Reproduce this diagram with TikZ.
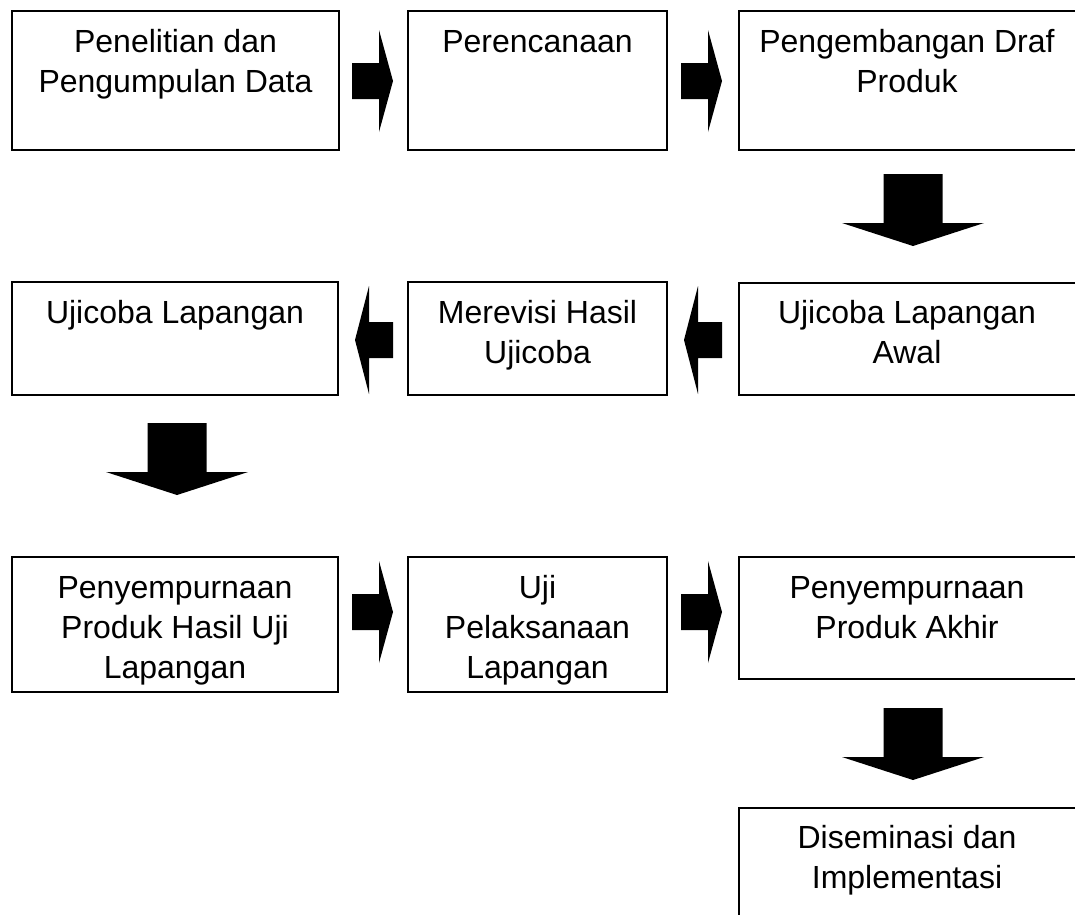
\documentclass[tikz,border=0pt]{standalone}
\usepackage{fontspec}
\setmainfont{Liberation Sans}
\begin{document}
\begin{tikzpicture}[x=1pt,y=-1pt,
  box/.style={draw=black, line width=1.6pt, fill=white, rectangle, inner sep=0pt},
  lbl/.style={anchor=north, align=center, inner sep=0pt, font=\fontsize{32}{40}\selectfont},
  rarrow/.pic={\fill[black] (0,-18)--(27,-18)--(27,-51)--(41,0)--(27,51)--(27,18)--(0,18)--cycle;},
  larrow/.pic={\fill[black] (0,0)--(14,-54)--(14,-18)--(38,-18)--(38,18)--(14,18)--(14,54)--cycle;},
  darrow/.pic={\fill[black] (-29.5,0)--(29.5,0)--(29.5,49)--(71,49)--(0,72)--(-71,49)--(-29.5,49)--cycle;}]
\useasboundingbox (0,0) rectangle (1075,914);
\clip (0,0) rectangle (1075,914);
% row 1
\node[box, minimum width=327pt, minimum height=139pt] (b1) at (175.5,80.5) {};
\node[box, minimum width=259pt, minimum height=139pt] (b2) at (537.5,80.5) {};
\node[box, minimum width=346pt, minimum height=139pt] (b3) at (912,80.5) {};
\node[lbl] (t1) at (175.5,24) {\strut Penelitian dan\\Pengumpulan Data};
\node[lbl] (t2) at (537.5,24) {\strut Perencanaan};
\node[lbl] (t3) at (907,24) {\strut Pengembangan Draf\\Produk};
\pic at (352,81) {rarrow};
\pic at (681,81) {rarrow};
\pic at (913,174) {darrow};
% row 2
\node[box, minimum width=326pt, minimum height=113pt] (b4) at (175,338.5) {};
\node[box, minimum width=259pt, minimum height=113pt] (b5) at (537.5,338.5) {};
\node[box, minimum width=346pt, minimum height=112pt] (b6) at (912,339) {};
\node[lbl] (t4) at (175,295) {\strut Ujicoba Lapangan};
\node[lbl] (t5) at (537.5,295) {\strut Merevisi Hasil\\Ujicoba};
\node[lbl] (t6) at (907,295) {\strut Ujicoba Lapangan\\Awal};
\pic at (355,340) {larrow};
\pic at (684,340) {larrow};
\pic at (177,423) {darrow};
% row 3
\node[box, minimum width=326pt, minimum height=135pt] (b7) at (175,624.5) {};
\node[box, minimum width=259pt, minimum height=135pt] (b8) at (537.5,624.5) {};
\node[box, minimum width=346pt, minimum height=122pt] (b9) at (912,618) {};
\node[lbl] (t7) at (175,570) {\strut Penyempurnaan\\Produk Hasil Uji\\Lapangan};
\node[lbl] (t8) at (537.5,570) {\strut Uji\\Pelaksanaan\\Lapangan};
\node[lbl] (t9) at (907,570) {\strut Penyempurnaan\\Produk Akhir};
\pic at (352,612) {rarrow};
\pic at (681,612) {rarrow};
\pic at (913,708) {darrow};
% row 4
\node[box, minimum width=346pt, minimum height=140pt] (b10) at (912,878) {};
\node[lbl] (t10) at (907,820) {\strut Diseminasi dan\\Implementasi};
\end{tikzpicture}
\end{document}
